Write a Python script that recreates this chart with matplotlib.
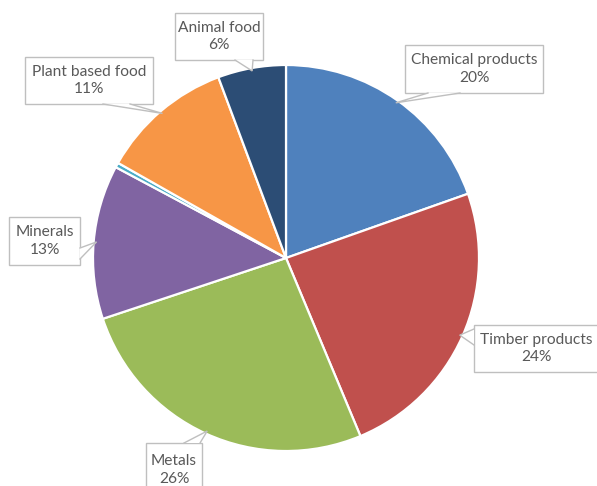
import matplotlib.pyplot as plt
from matplotlib.patches import Rectangle, Polygon
import numpy as np

# Share of exports by product group (percent)
categories = ['Chemical products', 'Timber products', 'Metals', 'Minerals',
              'Other', 'Plant based food', 'Animal food']
shares = [19.6, 24.1, 26.2, 12.9, 0.4, 11.1, 5.7]
colors = ['#4F81BD', '#C0504D', '#9BBB59', '#8064A2', '#4BACC6', '#F79646', '#2C4D75']
show_label = [True, True, True, True, False, True, True]

# callout boxes in pixel coords: left, top, right, bottom (y measured downward)
boxes = {
    'Chemical products': (405, 45, 543, 93),
    'Timber products': (474, 325, 599, 372),
    'Metals': (146, 443, 202, 497),
    'Minerals': (9, 217, 80, 265),
    'Plant based food': (25, 57, 153, 104),
    'Animal food': (175, 13, 263, 60),
}
# where the pointer leaves each box
bases = {
    'Chemical products': ((428, 93), (460, 93)),
    'Timber products': ((474, 329), (474, 345)),
    'Metals': ((184, 443), (200, 443)),
    'Minerals': ((80, 248), (80, 259)),
    'Plant based food': ((103, 104), (130, 104)),
    'Animal food': ((235, 60), (253, 60)),
}

W, H = 597, 486
cx, cy, r = 286, H - 258, 193
text_col = '#595959'
edge_col = '#BFBFBF'

fig = plt.figure(figsize=(W / 100, H / 100), dpi=100)
ax = fig.add_axes([0, 0, 1, 1])

wedges, _ = ax.pie(shares, colors=colors, startangle=90, counterclock=False,
                   center=(cx, cy), radius=r,
                   wedgeprops=dict(edgecolor='white', linewidth=1.6))

for w, name, show in zip(wedges, categories, show_label):
    if not show:
        continue
    pct = shares[categories.index(name)]
    mid = np.deg2rad((w.theta1 + w.theta2) / 2)
    tip = (cx + 0.985 * r * np.cos(mid), cy + 0.985 * r * np.sin(mid))

    l, t, rt, b = boxes[name]
    ax.add_patch(Rectangle((l, H - b), rt - l, b - t, facecolor='white',
                           edgecolor=edge_col, linewidth=1.0, zorder=5))
    (x1, y1), (x2, y2) = bases[name]
    p1, p2 = (x1, H - y1), (x2, H - y2)
    ax.add_patch(Polygon([p1, tip, p2], closed=True, facecolor='white',
                         edgecolor='none', zorder=6))
    ax.plot([p1[0], tip[0], p2[0]], [p1[1], tip[1], p2[1]],
            color=edge_col, linewidth=1.0, zorder=7, solid_joinstyle='miter')

    ax.text((l + rt) / 2, H - (t + b) / 2, f'{name}\n{pct:.0f}%',
            ha='center', va='center', color=text_col, fontsize=11.2,
            family='Lato', linespacing=1.3, zorder=8)

ax.set_xlim(0, W)
ax.set_ylim(0, H)
ax.set_aspect('auto')
ax.axis('off')

fig.savefig('out.png', dpi=100)
